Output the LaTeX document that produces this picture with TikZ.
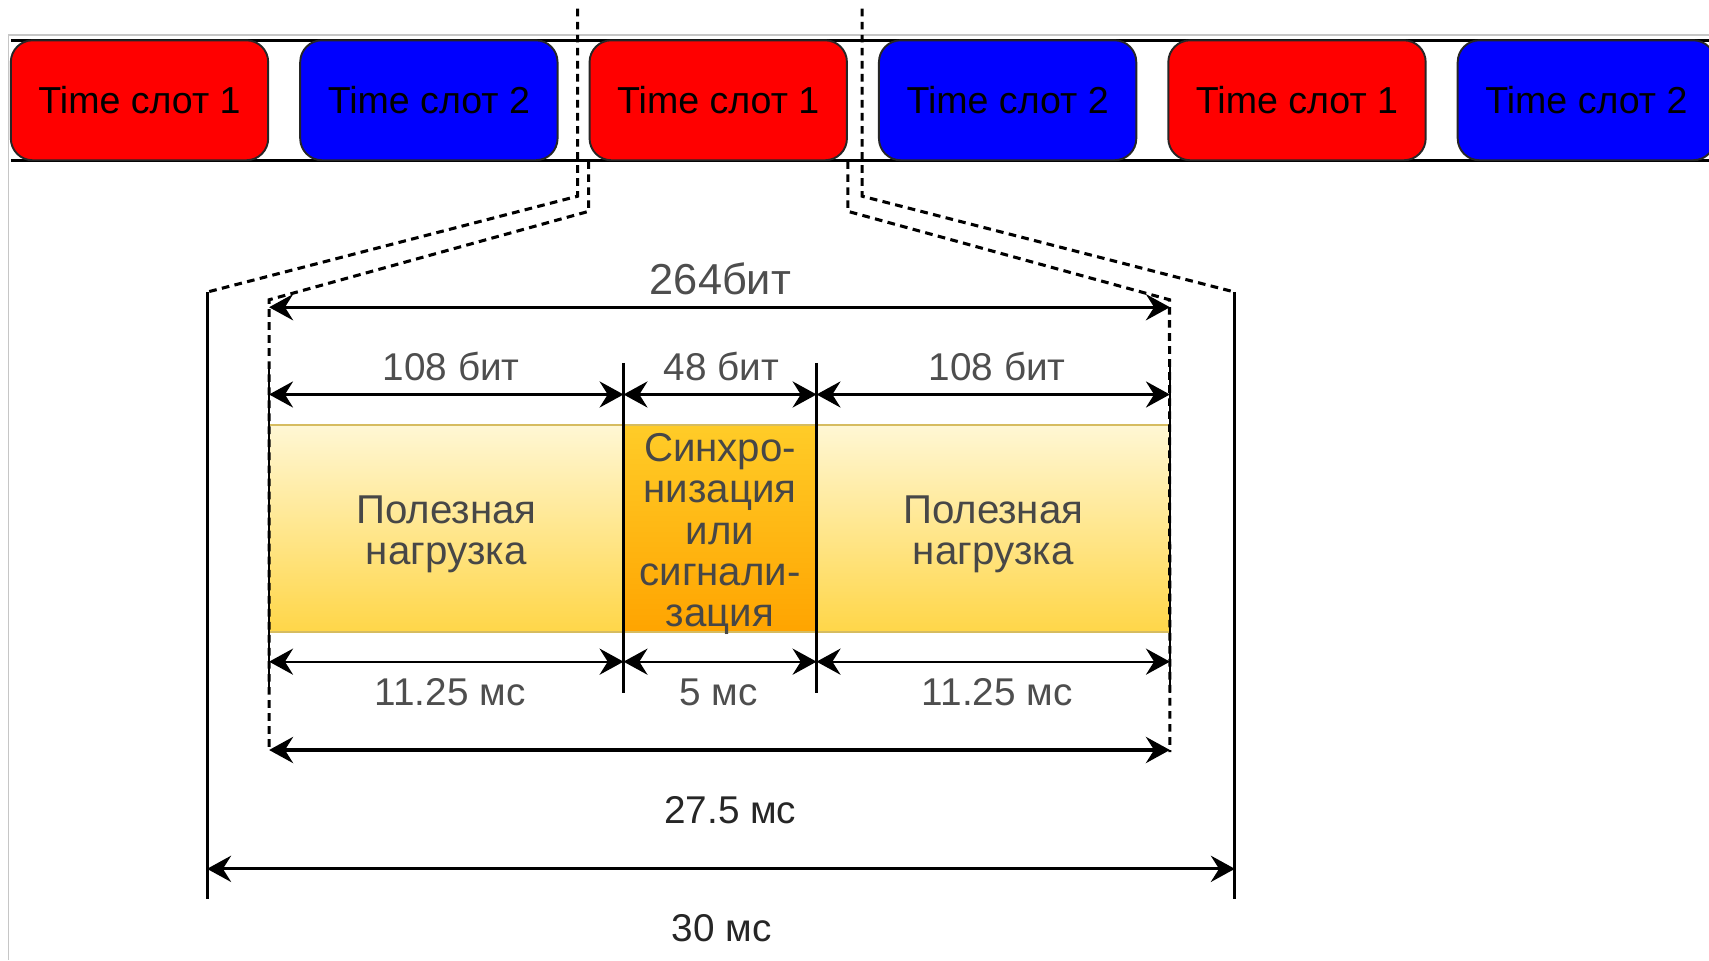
\documentclass[tikz,border=0pt]{standalone}
\usepackage{fontspec}
\setmainfont{Liberation Sans}
\usetikzlibrary{arrows.meta,positioning,calc}
\definecolor{slotred}{RGB}{255,0,0}
\definecolor{slotblue}{RGB}{0,0,255}
\definecolor{loadtop}{RGB}{255,247,212}
\definecolor{loadbot}{RGB}{255,214,72}
\definecolor{synctop}{RGB}{255,204,40}
\definecolor{syncbot}{RGB}{255,164,0}
\definecolor{edgegold}{RGB}{214,188,96}
\definecolor{labelgray}{RGB}{78,78,78}
\tikzset{
    slot/.style={
        rectangle,
        rounded corners=2mm,
        draw=black!85,
        line width=0.5pt,
        minimum width=2.36cm,
        minimum height=1.1cm,
        font=\fontsize{9.8}{12}\selectfont,
    },
    load/.style={
        rectangle,
        top color=loadtop,
        bottom color=loadbot,
        minimum height=1.9cm,
        inner sep=0pt,
        outer sep=0pt,
    },
    sync/.style={
        load,
        top color=synctop,
        bottom color=syncbot,
        minimum width=1.77cm,
    },
    loadtext/.style={
        align=center,
        inner sep=0pt,
        text=black!72,
        font=\fontsize{10.5}{10.8}\selectfont,
    },
    dimlabel/.style={
        text=labelgray,
        font=\fontsize{10.1}{12}\selectfont,
    },
    dimthin/.style={
        <->,>={Stealth[length=2.2mm,width=2.4mm,inset=0.75mm]},
        line width=0.6pt,
    },
    dimthick/.style={
        <->,>={Stealth[length=2.2mm,width=2.4mm,inset=0.75mm]},
        line width=0.85pt,
    },
    zoomline/.style={
        dash pattern=on 2pt off 1.4pt,
        line width=0.8pt,
    },
    sepline/.style={
        line width=0.6pt,
    },
    pageframe/.style={
        draw=gray!45,
        line width=0.4pt,
    },
}
\begin{document}
\begin{tikzpicture}[x=0.01cm,y=-0.01cm]
    \useasboundingbox (0,0) rectangle (1568,881);
    \draw[pageframe] (1568,32) -- (8,32) -- (8,881);

    % time slots
    \draw[line width=0.8pt] (10,37) -- (1568,37) (10,147) -- (1568,147);
    \foreach \i/\c/\n in {0/slotred/1,1/slotblue/2,2/slotred/1,3/slotblue/2,4/slotred/1,5/slotblue/2}
        \node[slot, fill=\c] (ts\i) at ({128+265.5*\i},92) {Time слот \n};

    % frame of one slot
    \node[load, minimum width=3.25cm] (pl) at (409.5,485) {};
    \node[sync, right=0pt of pl] (sy) {};
    \node[load, minimum width=3.24cm, right=0pt of sy] (pr) {};
    \draw[edgegold, line width=0.6pt] (pl.north west) -- (pr.north east);
    \draw[edgegold, line width=0.6pt] (pl.south west) -- (pr.south east);
    \node[loadtext] (plt) at ([yshift=-0.05cm]pl.center) {Полезная\\нагрузка};
    \node[loadtext] (syt) at ([yshift=-0.05cm]sy.center) {Синхро-\\низация\\или\\сигнали-\\зация};
    \node[loadtext] (prt) at ([yshift=-0.05cm]pr.center) {Полезная\\нагрузка};

    \coordinate (cutl) at (530,8);
    \coordinate (kneel) at (530,180);
    \coordinate (cutr) at (791,8);
    \coordinate (kneer) at (791,180);
    \coordinate (il) at (247,275);
    \coordinate (ir) at (1073,275);
    \coordinate (ol) at (190,268);
    \coordinate (or) at (1133,268);
    \coordinate (olb) at (190,825);
    \coordinate (orb) at (1133,825);

    % zoom lines
    \draw[zoomline] (cutl) -- (kneel) -- (ol);
    \draw[zoomline] (cutr) -- (kneer) -- (or);
    \draw[zoomline] (ts2.south west) -- ++(0,46) -- (il) -- ([yshift=-1.1cm]pl.south west);
    \draw[zoomline] (ts2.south east) -- ++(0,46) -- (ir) -- ([yshift=-1.1cm]pr.south east);
    \draw[line width=0.8pt] (ol) -- (olb);
    \draw[line width=0.8pt] (or) -- (orb);

    \foreach \n/\s in {pl/west,pl/east,sy/east,pr/east}
        \draw[sepline] ([yshift=0.57cm]\n.north \s) -- ([yshift=-0.56cm]\n.south \s);

    % dimensions
    \draw[dimthick] ([yshift=1.08cm]pl.north west) -- ([yshift=1.08cm]pr.north east);
    \foreach \n in {pl,sy,pr} {
        \draw[dimthin] ([yshift=0.28cm]\n.north west) -- ([yshift=0.28cm]\n.north east);
        \draw[dimthin] ([yshift=-0.27cm]\n.south west) -- ([yshift=-0.27cm]\n.south east);
    }
    \draw[dimthick] ([yshift=-1.08cm]pl.south west) -- ([yshift=-1.08cm]pr.south east);
    \draw[dimthick] ($(ol)!0.95!(olb)$) -- ($(or)!0.95!(orb)$);

    \node[dimlabel, font=\fontsize{11.3}{14}\selectfont] (bits) at (661,256) {264бит};
    \node[dimlabel] (b1) at (414,336) {108 бит};
    \node[dimlabel] (b2) at (662,336) {48 бит};
    \node[dimlabel] (b3) at (915,336) {108 бит};
    \node[dimlabel] (t1) at (413,635) {11.25 мс};
    \node[dimlabel] (t2) at (659,635) {5 мс};
    \node[dimlabel] (t3) at (915,635) {11.25 мс};
    \node[dimlabel, text=black!85] (t275) at (670,743) {27.5 мс};
    \node[dimlabel, text=black!85] (t30) at (662,852) {30 мс};
\end{tikzpicture}
\end{document}
